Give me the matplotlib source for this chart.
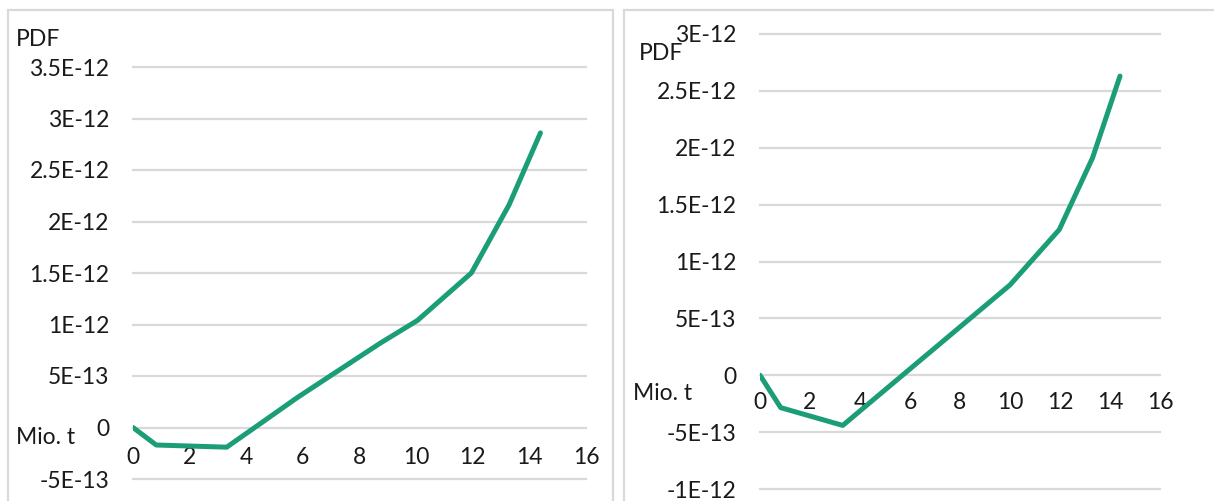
import numpy as np
import matplotlib.pyplot as plt
from matplotlib.patches import Rectangle

# PDF curves, values in 1/t, x in million t
left_x = [0, 0.82, 3.31, 4.56, 5.8, 7.35, 8.74, 10.05, 11.95, 13.28, 14.39]
left_y = [0, -1.7e-13, -1.91e-13, 0.5e-13, 2.9e-13, 5.7e-13, 8.2e-13,
          1.04e-12, 1.5e-12, 2.16e-12, 2.86e-12]

right_x = [0, 0.83, 3.31, 10.0, 11.97, 13.3, 14.4]
right_y = [0, -2.85e-13, -4.41e-13, 7.94e-13, 1.28e-12, 1.91e-12, 2.63e-12]

x_ticks = [0, 2, 4, 6, 8, 10, 12, 14, 16]
left_yticks = [-5e-13, 0, 5e-13, 1e-12, 1.5e-12, 2e-12, 2.5e-12, 3e-12, 3.5e-12]
left_ylabels = ["-5E-13", "0", "5E-13", "1E-12", "1.5E-12", "2E-12",
                "2.5E-12", "3E-12", "3.5E-12"]
right_yticks = [-1e-12, -5e-13, 0, 5e-13, 1e-12, 1.5e-12, 2e-12, 2.5e-12, 3e-12]
right_ylabels = ["-1E-12", "-5E-13", "0", "5E-13", "1E-12", "1.5E-12",
                 "2E-12", "2.5E-12", "3E-12"]

W, H = 1214, 501
LINE = "#1b9e77"
GRID = "#d9d9d9"
TXT = "#1a1a1a"
FONT = "Lato"
FS = 16.5

plt.rcParams['font.family'] = [FONT, 'DejaVu Sans']

fig = plt.figure(figsize=(W / 100, H / 100), dpi=100)


def px_box(x0, x1, ytop, ybot):
    return [x0 / W, 1 - ybot / H, (x1 - x0) / W, (ybot - ytop) / H]


def panel(box, xs, ys, yticks, ylabels, ylim, xpad):
    ax = fig.add_axes(box)
    ax.plot(xs, ys, color=LINE, lw=3.6, solid_capstyle='round',
            solid_joinstyle='round', zorder=3)
    ax.set_xlim(0, 16)
    ax.set_ylim(*ylim)
    ax.set_xticks(x_ticks)
    ax.set_xticklabels([str(t) for t in x_ticks])
    ax.set_yticks(yticks)
    ax.set_yticklabels(ylabels)
    for s in ['top', 'right', 'left']:
        ax.spines[s].set_visible(False)
    ax.spines['bottom'].set_position(('data', 0))
    ax.spines['bottom'].set_visible(False)
    ax.tick_params(axis='x', length=0, pad=xpad, labelsize=FS, labelcolor=TXT)
    ax.tick_params(axis='y', length=0, pad=17, labelsize=FS, labelcolor=TXT)
    ax.yaxis.grid(True, color=GRID, lw=1.6)
    ax.set_axisbelow(True)
    for gl in ax.get_ygridlines():
        gl.set_clip_on(False)
    ax.patch.set_alpha(0)
    return ax


panel(px_box(133, 586, 67, 479), left_x, left_y, left_yticks, left_ylabels,
      (-5e-13, 3.5e-12), 14)
panel(px_box(760, 1160, 34, 489), right_x, right_y, right_yticks, right_ylabels,
      (-1e-12, 3e-12), 12)

# frames around the two charts
fig.add_artist(Rectangle((8 / W, -0.05), (613 - 8) / W, 1.05 - 10 / H,
                         transform=fig.transFigure, fill=False,
                         edgecolor=GRID, lw=1.6))
fig.add_artist(Rectangle((624 / W, -0.05), 0.5, 1.05 - 10 / H,
                         transform=fig.transFigure, fill=False,
                         edgecolor=GRID, lw=1.6))

# axis titles
fig.text(16 / W, 1 - 40 / H, "PDF", fontsize=FS, color=TXT, va='center')
fig.text(16 / W, 1 - 437 / H, "Mio. t", fontsize=FS, color=TXT, va='center')
fig.text(639 / W, 1 - 53 / H, "PDF", fontsize=FS, color=TXT, va='center')
fig.text(633 / W, 1 - 393 / H, "Mio. t", fontsize=FS, color=TXT, va='center')

fig.savefig("out.png", dpi=100)
